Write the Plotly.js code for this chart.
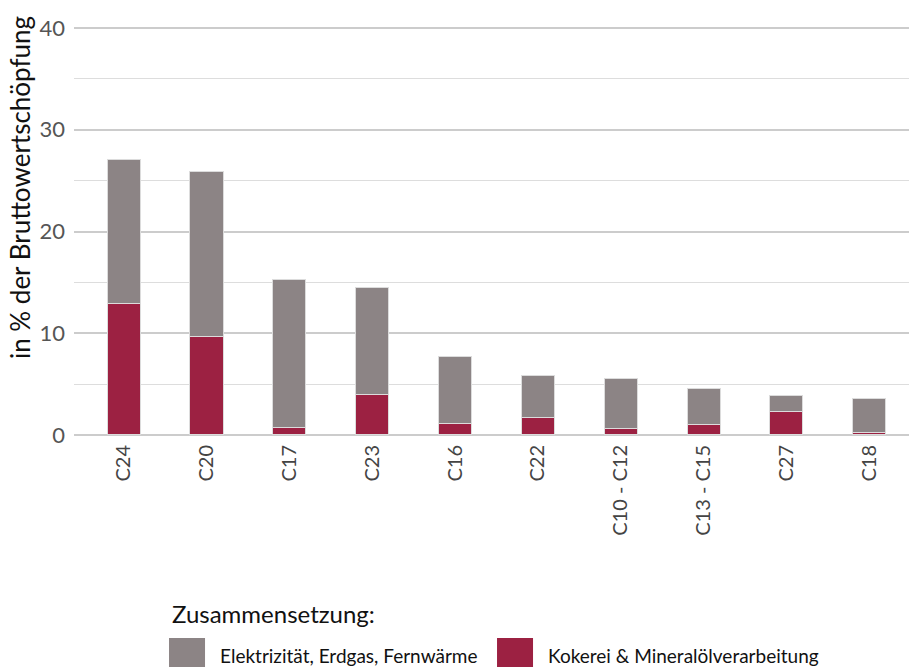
<!DOCTYPE html>
<html><head><meta charset="utf-8">
<script src="https://cdn.plot.ly/plotly-3.0.1.min.js"></script>
<style>body{margin:0;background:#fff}</style>
</head><body>
<div id="chart" style="width:909px;height:667px"></div>
<script>
const categories = ["C24","C20","C17","C23","C16","C22","C10 - C12","C13 - C15","C27","C18"];
const kokerei = [12.9, 9.7, 0.7, 4.0, 1.1, 1.7, 0.6, 1.0, 2.3, 0.2];
const elektrizitaet = [14.2, 16.2, 14.6, 10.45, 6.6, 4.1, 4.9, 3.6, 1.6, 3.4];
const seriesNames = ["Elektrizität, Erdgas, Fernwärme", "Kokerei & Mineralölverarbeitung"];
const yTicks = [0, 10, 20, 30, 40];
const FONT = "Lato, 'Open Sans', sans-serif";

const traces = [
  {type:"bar", x:categories, y:kokerei, name:seriesNames[1], width:0.4,
   marker:{color:"#9c2142", line:{color:"#dcdcdc", width:1}}, hoverinfo:"x+y+name"},
  {type:"bar", x:categories, y:elektrizitaet, name:seriesNames[0], width:0.4,
   marker:{color:"#8c8485", line:{color:"#dcdcdc", width:1}}, hoverinfo:"x+y+name"}
];
const layout = {
  width:909, height:667, barmode:"stack",
  paper_bgcolor:"#fff", plot_bgcolor:"#fff",
  margin:{l:74, r:0, t:23, b:227},
  font:{family:FONT, color:"#444"},
  xaxis:{type:"category", range:[-0.6, 9.48], tickangle:-90, showgrid:false, showline:false,
         ticks:"", tickfont:{size:20, color:"#444", family:FONT}},
  yaxis:{range:[-0.5, 40.5], tickvals:yTicks, ticktext:yTicks.map(String), showgrid:true,
         gridcolor:"#cccccc", gridwidth:2, zeroline:false, showline:false, ticks:"",
         ticklabelstandoff:8,
         tickfont:{size:22, color:"#555", family:FONT},
         minor:{dtick:5, showgrid:true, gridcolor:"#dddddd", gridwidth:1},
         title:{text:"in % der Bruttowertschöpfung", font:{size:26, color:"#111", family:FONT}, standoff:12}},
  showlegend:true,
  legend:{orientation:"h", x:0.115, xanchor:"left", y:-0.3645, yanchor:"top", traceorder:"reversed",
          title:{text:"Zusammensetzung:", side:"top", font:{size:24, color:"#111", family:FONT}},
          font:{size:19, color:"#111", family:FONT}, itemwidth:40, entrywidth:273}
};
Plotly.newPlot("chart", traces, layout, {displayModeBar:false, staticPlot:true}).then(function(){
  document.querySelectorAll('.legend .legendpoints path').forEach(function(p){
    p.setAttribute('transform', 'translate(17,0) scale(3)');
    p.style.strokeWidth = '0';
  });
  document.querySelectorAll('.legend .scrollbox').forEach(function(s){ s.removeAttribute('clip-path'); });
  document.querySelectorAll('.legend').forEach(function(s){ s.removeAttribute('clip-path'); });
  document.querySelectorAll('.legend .traces').forEach(function(g){
    var t = g.getAttribute('transform') || '';
    var m = t.match(/translate\(\s*([-\d.]+)[ ,]+([-\d.]+)\s*\)/);
    if (m) g.setAttribute('transform', 'translate(' + m[1] + ',' + (parseFloat(m[2]) + 14) + ')');
  });
  document.querySelectorAll('.ytitle').forEach(function(t){
    var tr = t.getAttribute('transform') || '';
    t.setAttribute('transform', 'translate(4,-44) ' + tr);
  });
});
</script>
</body></html>
